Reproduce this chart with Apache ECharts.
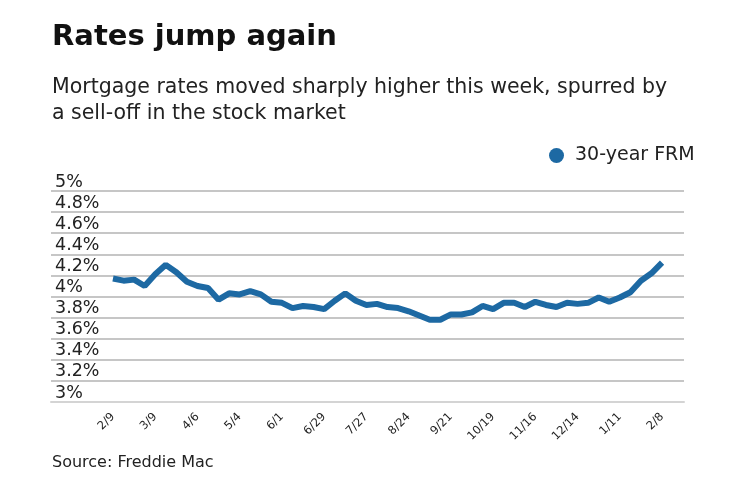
<!DOCTYPE html>
<html>
<head>
<meta charset="utf-8">
<script src="https://cdn.jsdelivr.net/npm/echarts@6/dist/echarts.min.js"></script>
<style>
html,body{margin:0;padding:0;background:#fff;}
#c{width:740px;height:482px;}
</style>
</head>
<body>
<div id="c"></div>
<script>
var weeks = ["2/9","2/16","2/23","3/2","3/9","3/16","3/23","3/30","4/6","4/13","4/20","4/27","5/4","5/11","5/18","5/25","6/1","6/8","6/15","6/22","6/29","7/6","7/13","7/20","7/27","8/3","8/10","8/17","8/24","8/31","9/7","9/14","9/21","9/28","10/5","10/12","10/19","10/26","11/2","11/9","11/16","11/22","11/30","12/7","12/14","12/21","12/28","1/4","1/11","1/18","1/25","2/1","2/8"];
var rates = [4.17,4.15,4.16,4.10,4.21,4.30,4.23,4.14,4.10,4.08,3.97,4.03,4.02,4.05,4.02,3.95,3.94,3.89,3.91,3.90,3.88,3.96,4.03,3.96,3.92,3.93,3.90,3.89,3.86,3.82,3.78,3.78,3.83,3.83,3.85,3.91,3.88,3.94,3.94,3.90,3.95,3.92,3.90,3.94,3.93,3.94,3.99,3.95,3.99,4.04,4.15,4.22,4.32];
var tickIndexes = [0,4,8,12,16,20,24,28,32,36,40,44,48,52];
var seriesName = "30-year FRM";

var chart = echarts.init(document.getElementById('c'));
var FONT = 'DejaVu Sans';
chart.setOption({
  animation: false,
  backgroundColor: '#ffffff',
  textStyle: {fontFamily: FONT},
  title: [
    {text: 'Rates jump again', left: 47, top: 18,
     textStyle: {fontSize: 29, fontWeight: 'bold', color: '#111', fontFamily: FONT}},
    {text: 'Mortgage rates moved sharply higher this week, spurred by\na sell-off in the stock market', left: 47, top: 70,
     textStyle: {fontSize: 20.5, fontWeight: 'normal', color: '#222', lineHeight: 25.5, fontFamily: FONT}},
    {text: 'Source: Freddie Mac', left: 47, top: 450,
     textStyle: {fontSize: 16, fontWeight: 'normal', color: '#222', fontFamily: FONT}}
  ],
  legend: {
    data: [seriesName], left: 544, top: 141, icon: 'circle', itemWidth: 15, itemHeight: 15,
    textStyle: {fontSize: 19, color: '#222', fontFamily: FONT, padding: [0, 0, 0, 6]}
  },
  grid: {left: 51, right: 56, top: 191, bottom: 80},
  xAxis: {
    type: 'value', min: -5.87, max: 54.08,
    axisLine: {show: true, lineStyle: {color: '#d4d4d4', width: 2}},
    axisTick: {show: false},
    splitLine: {show: false},
    axisLabel: {
      customValues: tickIndexes, rotate: 45, margin: 13, fontSize: 11.5, color: '#222', fontFamily: FONT,
      formatter: function (v) { return weeks[v]; }
    }
  },
  yAxis: {
    type: 'value', min: 3, max: 5, interval: 0.2,
    axisLine: {show: false}, axisTick: {show: false},
    splitLine: {lineStyle: {color: '#b3b3b3', width: 1.5}},
    axisLabel: {
      inside: true, margin: 4, verticalAlign: 'bottom', fontSize: 17.5, color: '#222', fontFamily: FONT,
      padding: [0, 0, 0, 0],
      formatter: function (v) { return (Math.round(v * 10) / 10) + '%'; }
    }
  },
  series: [{
    name: seriesName, type: 'line', showSymbol: false, symbol: 'circle',
    data: rates.map(function (r, i) { return [i, r]; }),
    lineStyle: {color: '#1d69a3', width: 6},
    itemStyle: {color: '#1d69a3'}
  }]
});
</script>
</body>
</html>
